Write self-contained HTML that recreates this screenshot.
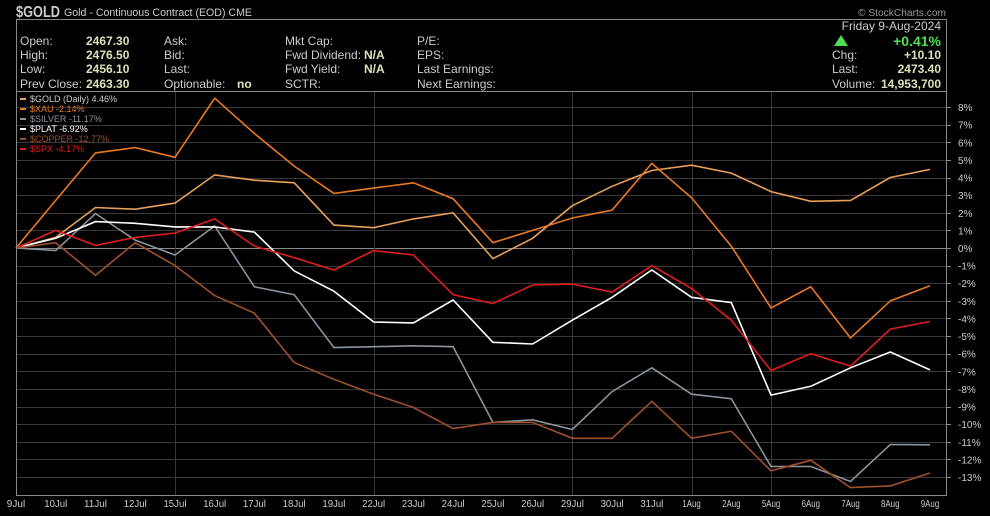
<!DOCTYPE html>
<html><head><meta charset="utf-8"><style>
body{margin:0;background:#000;width:990px;height:511px;overflow:hidden;font-family:"Liberation Sans",sans-serif;}
svg text{font-family:"Liberation Sans",sans-serif;}
</style></head><body>
<svg id="chart" width="990" height="511" xmlns="http://www.w3.org/2000/svg">
<g>
<text x="16" y="17" fill="#ccc" font-size="16" font-weight="bold" textLength="44" lengthAdjust="spacingAndGlyphs">$GOLD</text>
<text x="64" y="16" fill="#ccc" font-size="11" textLength="188" lengthAdjust="spacingAndGlyphs">Gold - Continuous Contract (EOD) CME</text>
<text x="858" y="16" fill="#999" font-size="10" textLength="88" lengthAdjust="spacingAndGlyphs">© StockCharts.com</text>
<rect x="16.5" y="19.5" width="930" height="72" fill="none" stroke="#888"/>
<g font-size="12" fill="#ccc">
<text x="20" y="45">Open:</text><text x="86" y="45" font-weight="bold" fill="#dde0b8">2467.30</text>
<text x="20" y="59">High:</text><text x="86" y="59" font-weight="bold" fill="#dde0b8">2476.50</text>
<text x="20" y="73">Low:</text><text x="86" y="73" font-weight="bold" fill="#dde0b8">2456.10</text>
<text x="20" y="88">Prev Close:</text><text x="86" y="88" font-weight="bold" fill="#dde0b8">2463.30</text>
<text x="164" y="45">Ask:</text><text x="164" y="59">Bid:</text><text x="164" y="73">Last:</text>
<text x="164" y="88">Optionable:</text><text x="237" y="88" font-weight="bold" fill="#dde0b8">no</text>
<text x="285" y="45">Mkt Cap:</text><text x="285" y="59">Fwd Dividend:</text><text x="364" y="59" font-weight="bold" fill="#dde0b8">N/A</text>
<text x="285" y="73">Fwd Yield:</text><text x="364" y="73" font-weight="bold" fill="#dde0b8">N/A</text>
<text x="285" y="88">SCTR:</text>
<text x="417" y="45">P/E:</text><text x="417" y="59">EPS:</text><text x="417" y="73">Last Earnings:</text><text x="417" y="88">Next Earnings:</text>
<text x="941" y="30" text-anchor="end">Friday  9-Aug-2024</text>
<polygon points="834,46 841,35 848,46" fill="#4ee04e"/>
<text x="941" y="46" text-anchor="end" font-weight="bold" font-size="14" fill="#4ee04e">+0.41%</text>
<text x="832" y="59">Chg:</text><text x="941" y="59" text-anchor="end" font-weight="bold" fill="#dde0b8">+10.10</text>
<text x="832" y="73">Last:</text><text x="941" y="73" text-anchor="end" font-weight="bold" fill="#dde0b8">2473.40</text>
<text x="832" y="88">Volume:</text><text x="941" y="88" text-anchor="end" font-weight="bold" fill="#dde0b8">14,953,700</text>
</g>
</g>
<g id="grid"></g>
<g id="series"></g>
<g id="legend"></g>
<line x1="16" y1="91.5" x2="947" y2="91.5" stroke="#888"/>
<rect x="16.5" y="91.5" width="930" height="404" fill="none" stroke="#888"/>
</svg>
<script>
const categories=["9Jul","10Jul","11Jul","12Jul","15Jul","16Jul","17Jul","18Jul","19Jul","22Jul","23Jul","24Jul","25Jul","26Jul","29Jul","30Jul","31Jul","1Aug","2Aug","5Aug","6Aug","7Aug","8Aug","9Aug"];
const yTicks=[8,7,6,5,4,3,2,1,0,-1,-2,-3,-4,-5,-6,-7,-8,-9,-10,-11,-12,-13];
const vGridDates=["15Jul","22Jul","29Jul","1Aug","5Aug"];
const seriesNames=["$GOLD (Daily) 4.46%","$XAU -2.14%","$SILVER -11.17%","$PLAT -6.92%","$COPPER -12.77%","$SPX -4.17%"];
const goldVals=[0,0.6,2.3,2.2,2.55,4.15,3.85,3.7,1.3,1.15,1.65,2.0,-0.6,0.55,2.4,3.5,4.4,4.7,4.25,3.2,2.65,2.7,4.0,4.46];
const xauVals=[0,2.7,5.4,5.7,5.15,8.5,6.5,4.65,3.1,3.4,3.7,2.8,0.3,1.0,1.7,2.15,4.8,2.85,0.1,-3.4,-2.2,-5.1,-3.0,-2.14];
const silverVals=[0,-0.15,1.95,0.45,-0.4,1.25,-2.2,-2.65,-5.65,-5.6,-5.55,-5.6,-9.9,-9.75,-10.3,-8.15,-6.8,-8.3,-8.55,-12.4,-12.4,-13.25,-11.15,-11.17];
const platVals=[0,0.55,1.5,1.4,1.2,1.2,0.9,-1.3,-2.45,-4.2,-4.25,-2.95,-5.35,-5.45,-4.1,-2.8,-1.25,-2.8,-3.1,-8.35,-7.85,-6.8,-5.9,-6.92];
const copperVals=[0,0.3,-1.55,0.3,-1.0,-2.7,-3.7,-6.5,-7.45,-8.3,-9.05,-10.25,-9.9,-9.9,-10.8,-10.8,-8.7,-10.8,-10.4,-12.65,-12.05,-13.6,-13.5,-12.77];
const spxVals=[0,1.0,0.15,0.6,0.85,1.65,0.1,-0.55,-1.25,-0.15,-0.4,-2.65,-3.15,-2.1,-2.05,-2.5,-1.0,-2.3,-4.1,-6.95,-6.0,-6.7,-4.6,-4.17];
const seriesColors=["#e8a05a","#ea7a22","#8c949c","#ffffff","#a0502c","#e01c1c"];
const allVals=[goldVals,xauVals,silverVals,platVals,copperVals,spxVals];
const NS="http://www.w3.org/2000/svg";
const x=i=>16+i*(914/(categories.length-1));
const y=v=>248-v*17.62;
const grid=document.getElementById('grid');
function mk(tag,attrs,parent){const e=document.createElementNS(NS,tag);for(const k in attrs)e.setAttribute(k,attrs[k]);parent.appendChild(e);return e;}
yTicks.forEach(t=>{
 const l=mk('line',{x1:16,x2:947,y1:Math.round(y(t))+0.5,y2:Math.round(y(t))+0.5,stroke:t===0?'#8a8a8a':'#383838'},grid);
 
 
 mk('line',{x1:947,x2:951,y1:Math.round(y(t))+0.5,y2:Math.round(y(t))+0.5,stroke:'#888'},grid);
 const tx=mk('text',{x:958,y:y(t)+4,fill:'#ccc','font-size':10},grid);
 tx.textContent=t+'%';
 
 
});
vGridDates.forEach(d=>{
 const i=categories.indexOf(d);
 const l=mk('line',{x1:Math.round(x(i))+0.5,x2:Math.round(x(i))+0.5,y1:92,y2:495,stroke:'#383838'},grid);
 
 
});
categories.forEach((c,i)=>{
 const tx=mk('text',{x:x(i),y:507,fill:'#ccc','font-size':10,'text-anchor':'middle','textLength':c.length*4.6,'lengthAdjust':'spacingAndGlyphs'},grid);
 tx.textContent=c;
 
 
});
const sg=document.getElementById('series');
allVals.forEach((vals,s)=>{
 const p=mk('polyline',{points:vals.map((v,i)=>x(i).toFixed(1)+','+y(v).toFixed(1)).join(' '),fill:'none',stroke:seriesColors[s],'stroke-width':1.6},sg);
 
 
});
const lg=document.getElementById('legend');
seriesNames.forEach((n,s)=>{
 mk('rect',{x:20,y:98+s*10,width:6,height:2,fill:seriesColors[s]},lg);
 const tx=mk('text',{x:30,y:102+s*10,fill:s===0?'#ccc':seriesColors[s],'font-size':9},lg);
 tx.textContent=n;
 
 
});
</script>
</body></html>
